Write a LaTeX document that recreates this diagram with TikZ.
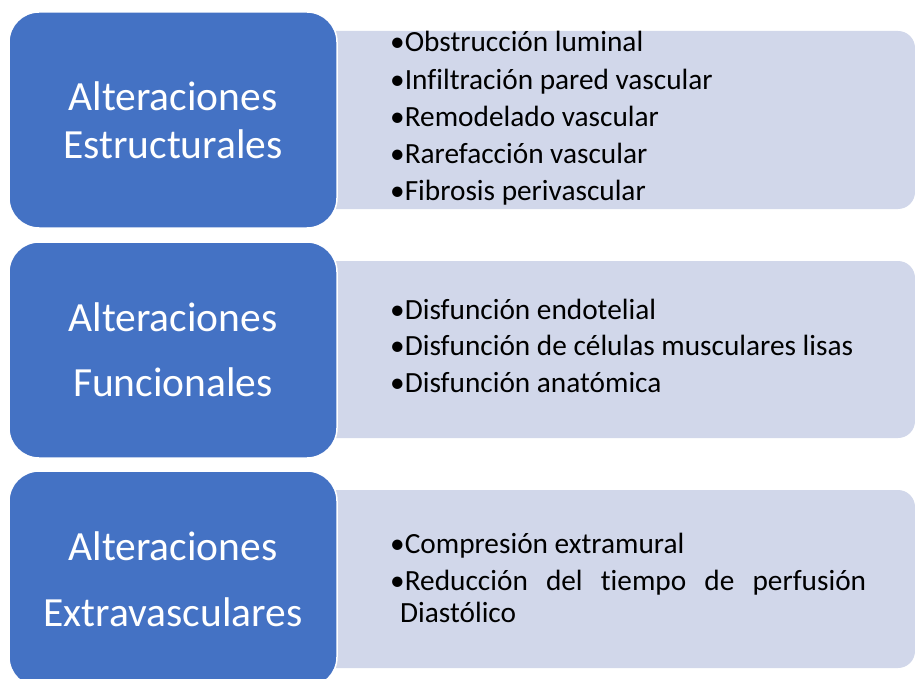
\documentclass[tikz,border=0pt]{standalone}
\usepackage{fontspec}
\setmainfont[Ligatures=NoCommon]{Carlito}

\definecolor{catblue}{HTML}{4472C4}
\definecolor{listbg}{HTML}{D1D7EA}

\hyphenpenalty=10000
\newcommand\bitem[1]{\noindent\hangindent=10pt\hangafter=1\textbullet#1\par}

\tikzset{
  catbox/.style={draw=white,line width=1.5pt,fill=catblue,rounded corners=30pt,
    minimum width=328pt,minimum height=216pt,inner sep=0pt,text=white,align=center},
  catfont/.style={font=\fontsize{41.5}{#1}\selectfont},
  listbox/.style={fill=listbg,rounded corners=17pt,minimum width=665pt,inner sep=0pt},
  listtext/.style={anchor=base west,text width=476pt,align=justify,inner sep=0pt,
    font=\fontsize{29.3}{32}\selectfont}
}

\begin{document}
\begin{tikzpicture}[x=1pt,y=-1pt]
  \useasboundingbox (0,0) rectangle (915,679);

  \node (bg1) at (582.5,120) [listbox,minimum height=178pt]{};
  \node (bg2) at (582.5,349.5) [listbox,minimum height=177pt]{};
  \node (bg3) at (582.5,579) [listbox,minimum height=178pt]{};

  \node (est) at (173,120) [catbox,catfont=48]{Alteraciones\\Estructurales};
  \node (fun) at (173,350) [catbox,catfont=65]{Alteraciones\\Funcionales};
  \node (ext) at (173,579) [catbox,catfont=66]{Alteraciones\\Extravasculares};

  \node (l1) at (390,52) [listtext]{\setlength\parskip{5.2pt}\hyphenpenalty=10000%
    \bitem{Obstrucción luminal}
    \bitem{Infiltración pared vascular}
    \bitem{Remodelado vascular}
    \bitem{Rarefacción vascular}
    \bitem{Fibrosis perivascular}};
  \node (l2) at (390,319) [listtext]{\setlength\parskip{4.5pt}\hyphenpenalty=10000%
    \bitem{Disfunción endotelial}
    \bitem{Disfunción de células musculares lisas}
    \bitem{Disfunción anatómica}};
  \node (l3) at (390,553) [listtext]{\setlength\parskip{5pt}\hyphenpenalty=10000%
    \bitem{Compresión extramural}
    \bitem{Reducción del tiempo de perfusión Diastólico}};

\end{tikzpicture}
\end{document}
